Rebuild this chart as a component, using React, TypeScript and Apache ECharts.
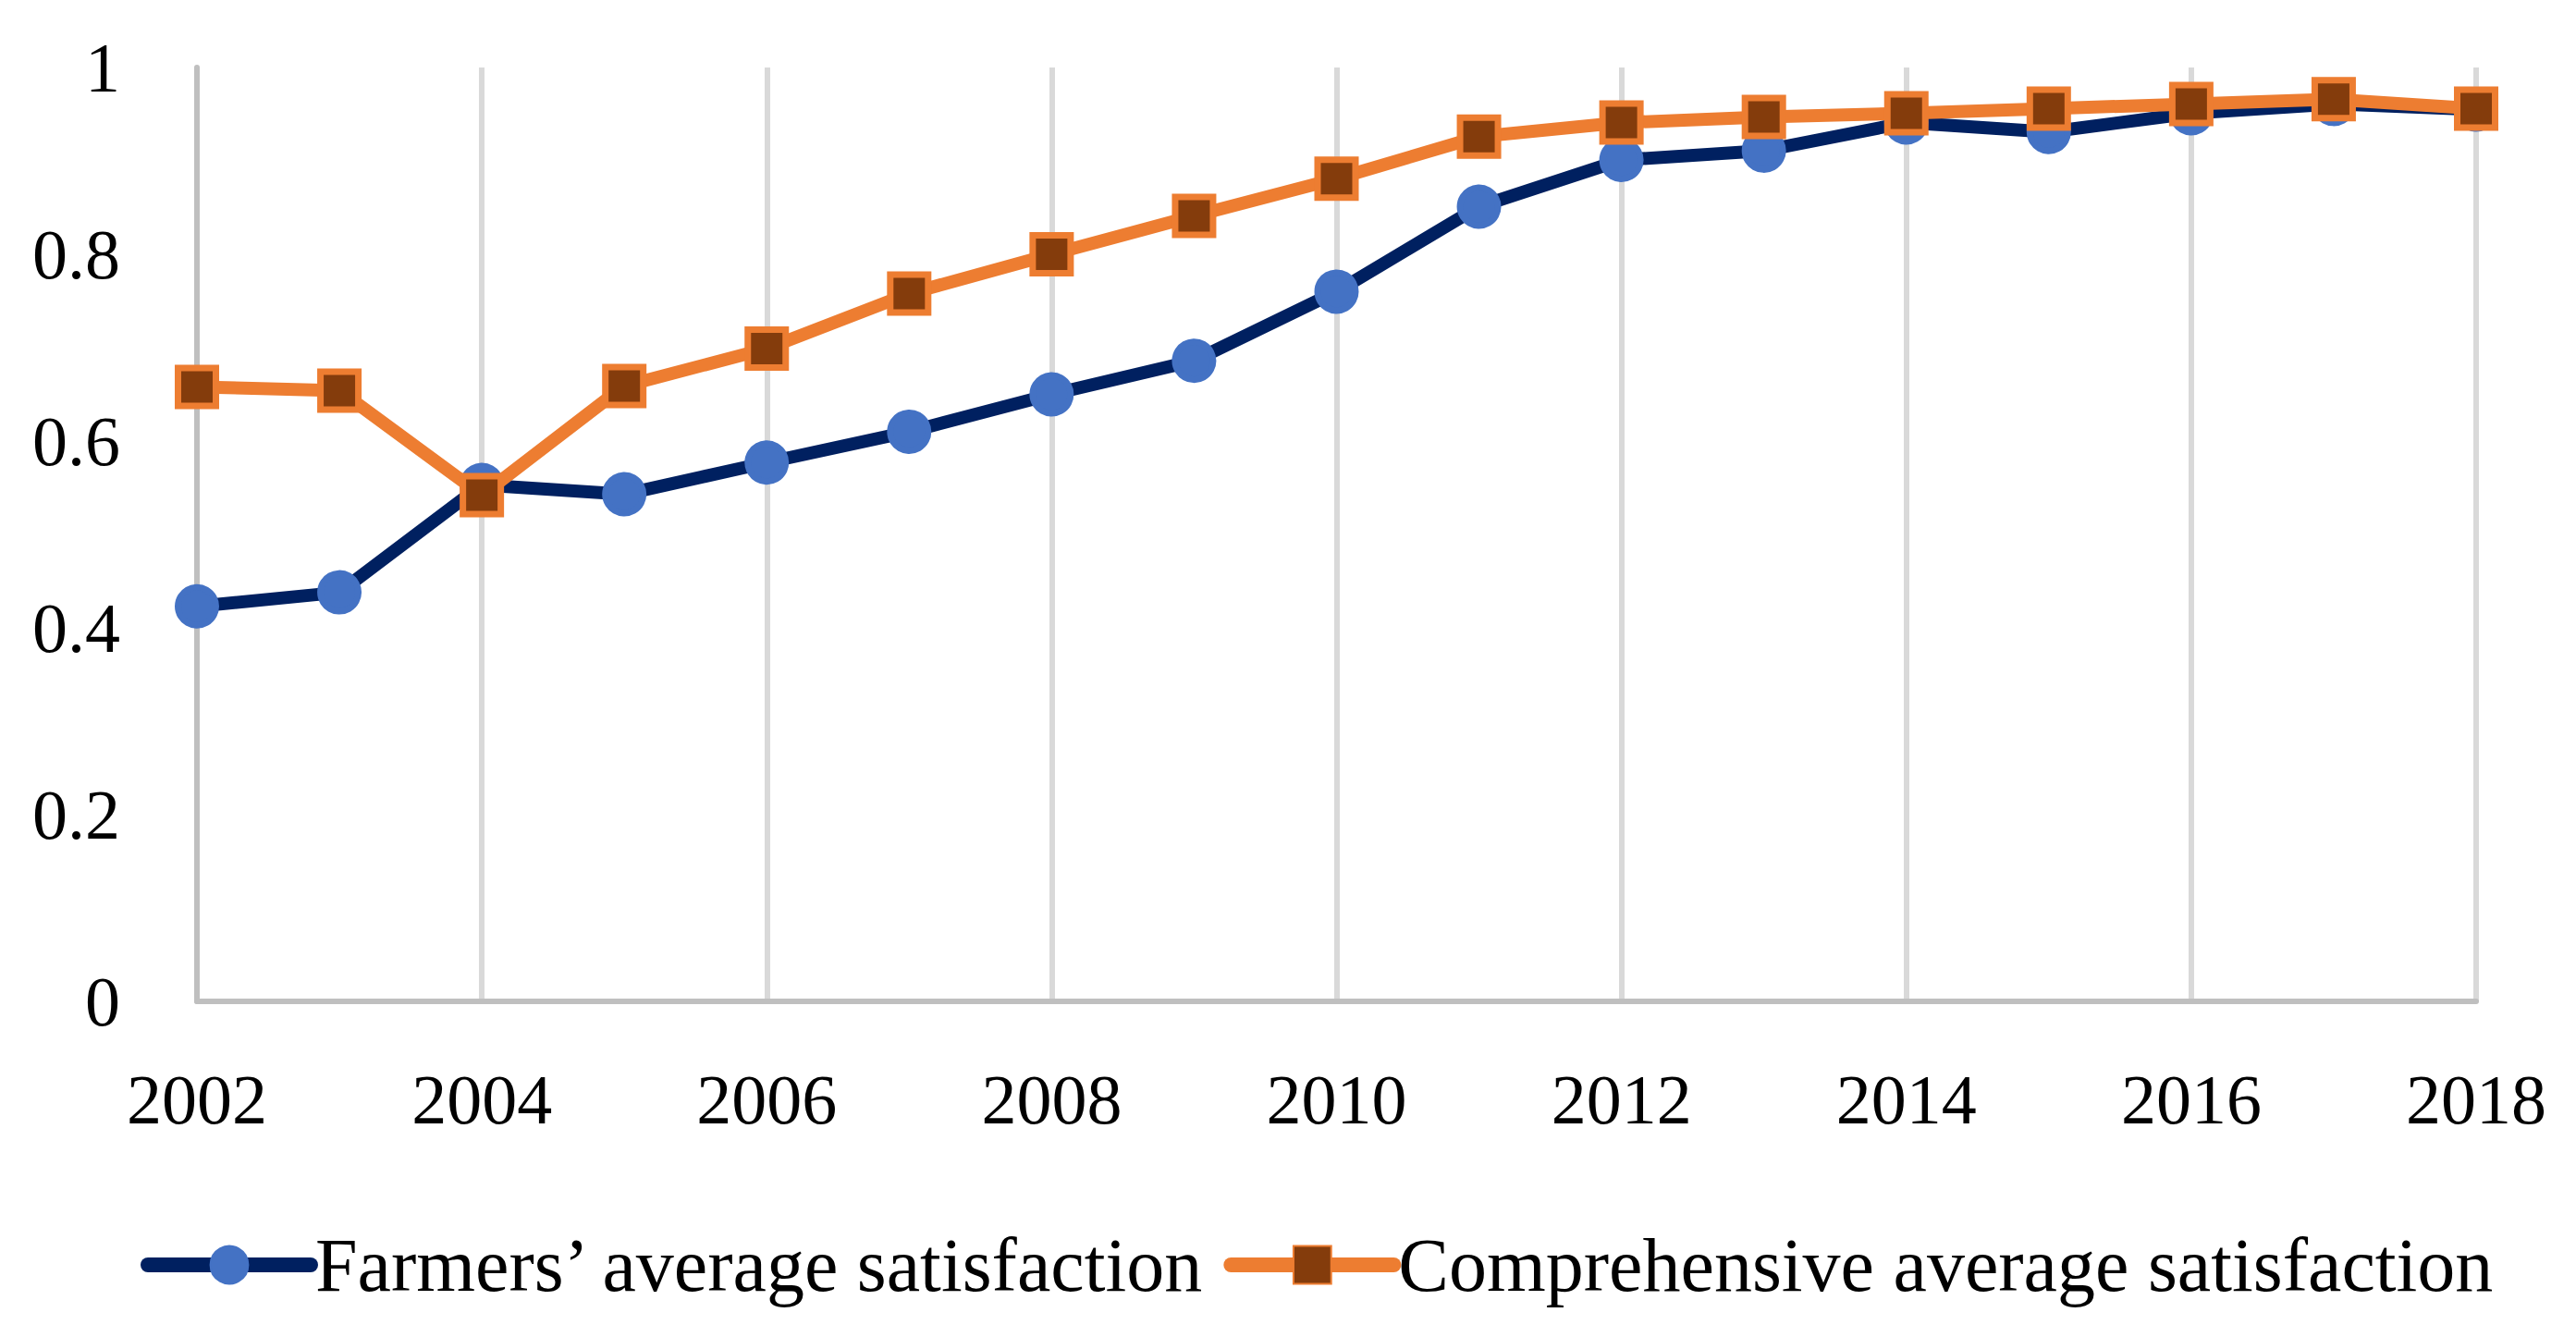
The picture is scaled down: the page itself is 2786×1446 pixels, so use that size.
import React, { useEffect, useRef } from "react";
import * as echarts from "echarts";

const years = ["2002","2003","2004","2005","2006","2007","2008","2009","2010","2011","2012","2013","2014","2015","2016","2017","2018"];
const farmers = [0.423, 0.438, 0.553, 0.543, 0.577, 0.610, 0.650, 0.686, 0.760, 0.851, 0.901, 0.911, 0.941, 0.931, 0.951, 0.961, 0.955];
const comprehensive = [0.658, 0.654, 0.542, 0.659, 0.699, 0.758, 0.800, 0.841, 0.881, 0.926, 0.941, 0.947, 0.951, 0.956, 0.961, 0.966, 0.956];
const seriesNames = ["Farmers\u2019 average satisfaction", "Comprehensive average satisfaction"];

const FONT = "Liberation Serif";

export default function App() {
  const ref = useRef<HTMLDivElement>(null);
  useEffect(() => {
    if (!ref.current) return;
    const chart = echarts.init(ref.current, undefined, { renderer: "svg" });
    chart.setOption({
      animation: false,
      backgroundColor: "#ffffff",
      grid: { left: 213, right: 108, top: 73, bottom: 363, containLabel: false },
      legend: {
        show: true,
        left: 152,
        top: 1327,
        padding: 0,
        itemWidth: 176,
        itemHeight: 51,
        itemGap: 17,
        lineStyle: { width: 16, cap: "round" },
        textStyle: { fontFamily: FONT, fontSize: 82, color: "#000" },
        data: seriesNames,
      },
      xAxis: {
        type: "category",
        data: years,
        boundaryGap: false,
        axisLine: { show: true, lineStyle: { color: "#bfbfbf", width: 6 } },
        axisTick: { show: false },
        axisLabel: { interval: 1, margin: 68, fontFamily: FONT, fontSize: 76, color: "#000" },
        splitLine: { show: true, interval: 1, lineStyle: { color: "#d9d9d9", width: 6 } },
      },
      yAxis: {
        type: "value",
        min: 0,
        max: 1,
        interval: 0.2,
        axisLine: { show: true, lineStyle: { color: "#bfbfbf", width: 6 } },
        axisTick: { show: false },
        axisLabel: { margin: 83, fontFamily: FONT, fontSize: 76, color: "#000" },
        splitLine: { show: false },
      },
      series: [
        {
          name: seriesNames[0],
          type: "line",
          data: farmers,
          symbol: "circle",
          symbolSize: 41,
          lineStyle: { color: "#002060", width: 14, join: "round" },
          itemStyle: { color: "#4472C4", borderColor: "#4472C4", borderWidth: 7 },
          z: 3,
        },
        {
          name: seriesNames[1],
          type: "line",
          data: comprehensive,
          symbol: "rect",
          symbolSize: 41,
          lineStyle: { color: "#ED7D31", width: 14, join: "round" },
          itemStyle: { color: "#843C0C", borderColor: "#ED7D31", borderWidth: 7 },
          z: 4,
        },
      ],
    });
    return () => chart.dispose();
  }, []);
  return (
    <div
      ref={ref}
      style={{ position: "absolute", left: 0, top: 0, width: 2786, height: 1446 }}
    />
  );
}
